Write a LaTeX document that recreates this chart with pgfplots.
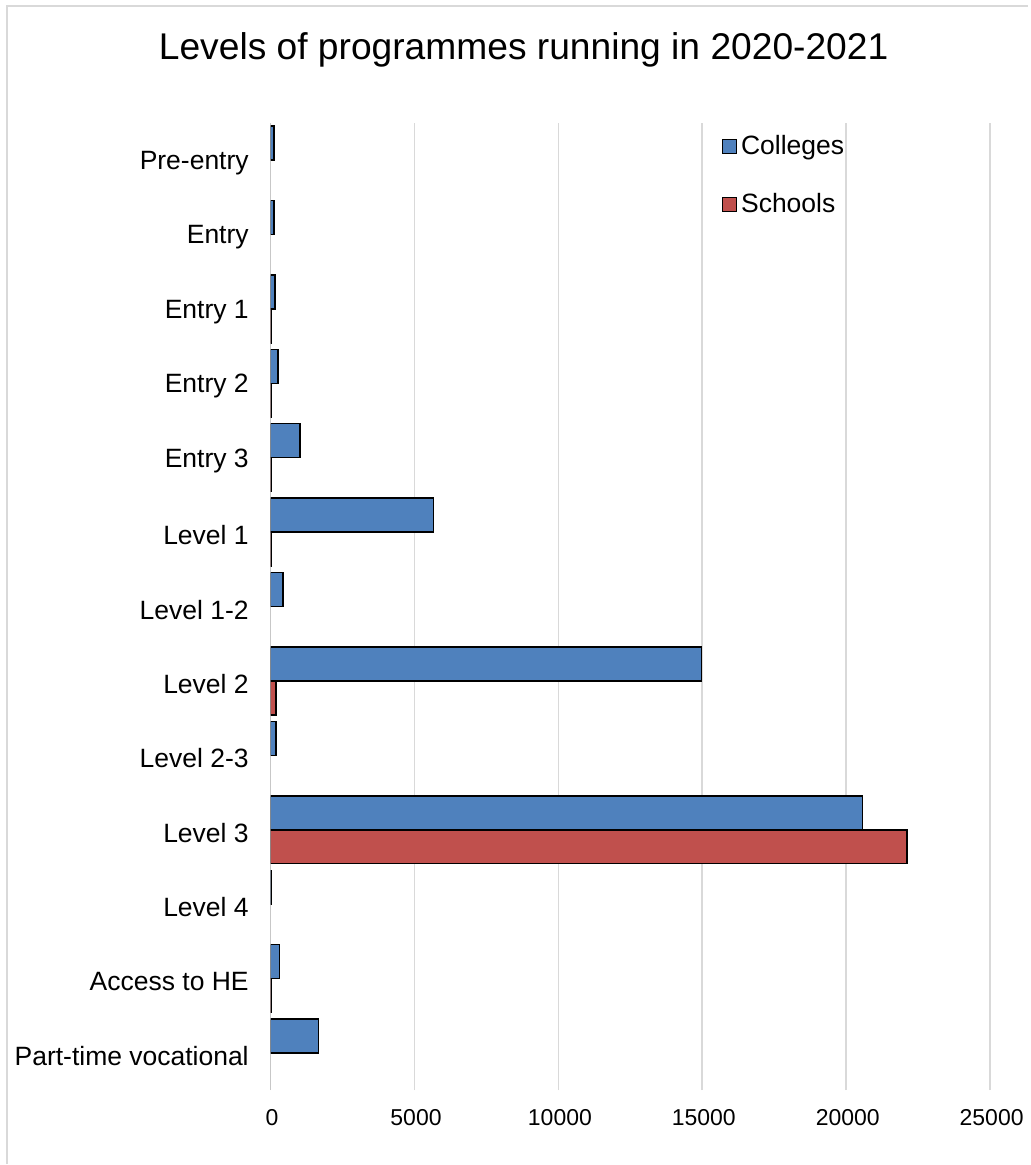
\documentclass[border=0pt]{standalone}
\usepackage{pgfplots}
\pgfplotsset{compat=1.18}
\usepackage{fontspec}
\setmainfont{Liberation Sans}
\definecolor{colblue}{HTML}{4F81BD}
\definecolor{colred}{HTML}{C0504D}
\definecolor{gridgray}{HTML}{D9D9D9}
\begin{document}
\begin{tikzpicture}
% page box: 1029 x 1165 px at 0.5pt per px
\path (0,0) rectangle (514.5pt,582.5pt);
\draw[gridgray, line width=0.8pt] (3.5pt,0) -- (3.5pt,579.5pt) -- (514.5pt,579.5pt);
\node[anchor=base, font=\fontsize{18.6}{22}\selectfont] at (262pt,552.5pt)
  {Levels of programmes running in 2020-2021};
\begin{axis}[
    at={(135.35pt,37pt)}, anchor=south west,
    scale only axis,
    width=360pt, height=484pt,
    xbar, bar width=17pt,
    xmin=0, xmax=25000,
    ymin=-0.5, ymax=12.5,
    xtick={0,5000,...,25000},
    ytick={0,...,12},
    yticklabels={Part-time vocational, Access to HE, Level 4, Level 3, Level 2-3,
      Level 2, Level 1-2, Level 1, Entry 3, Entry 2, Entry 1, Entry, Pre-entry},
    /pgf/number format/assume math mode=true,
    scaled x ticks=false,
    xticklabel style={font=\fontsize{11.5}{13}\selectfont, yshift=-6.3pt, xshift=0.8pt,
      /pgf/number format/fixed, /pgf/number format/1000 sep={}},
    yticklabel style={font=\fontsize{13.25}{16}\selectfont, xshift=-7.4pt, yshift=-1.5pt},
    major tick length=0pt,
    xmajorgrids, grid style={gridgray, line width=0.8pt},
    axis line style={draw=none},
    legend style={at={(0.6185,0.996)}, anchor=north west, draw=none, fill=none,
      font=\fontsize{13.25}{16}\selectfont, row sep=14.2pt,
      /tikz/every even column/.append style={column sep=0pt}},
    legend cell align=left,
    legend image code/.code={\draw[#1, line width=0.6pt] (0pt,-3.5pt) rectangle (7pt,3.5pt);},
]
\addplot[draw=black, fill=colblue, line width=0.7pt, bar shift=8.5pt] coordinates {
  (1670,0) (320,1) (25,2) (20560,3) (195,4) (14980,5) (440,6)
  (5670,7) (1020,8) (265,9) (150,10) (120,11) (125,12)
};
\addplot[draw=black, fill=colred, line width=0.7pt, bar shift=-8.5pt] coordinates {
  (20,1) (22120,3) (185,5) (20,7) (20,8) (15,9) (15,10)
};
\legend{Colleges, Schools}
\draw[gray!70, line width=0.6pt] (axis cs:0,-0.5) -- (axis cs:0,12.5);
\end{axis}
\end{tikzpicture}
\end{document}
